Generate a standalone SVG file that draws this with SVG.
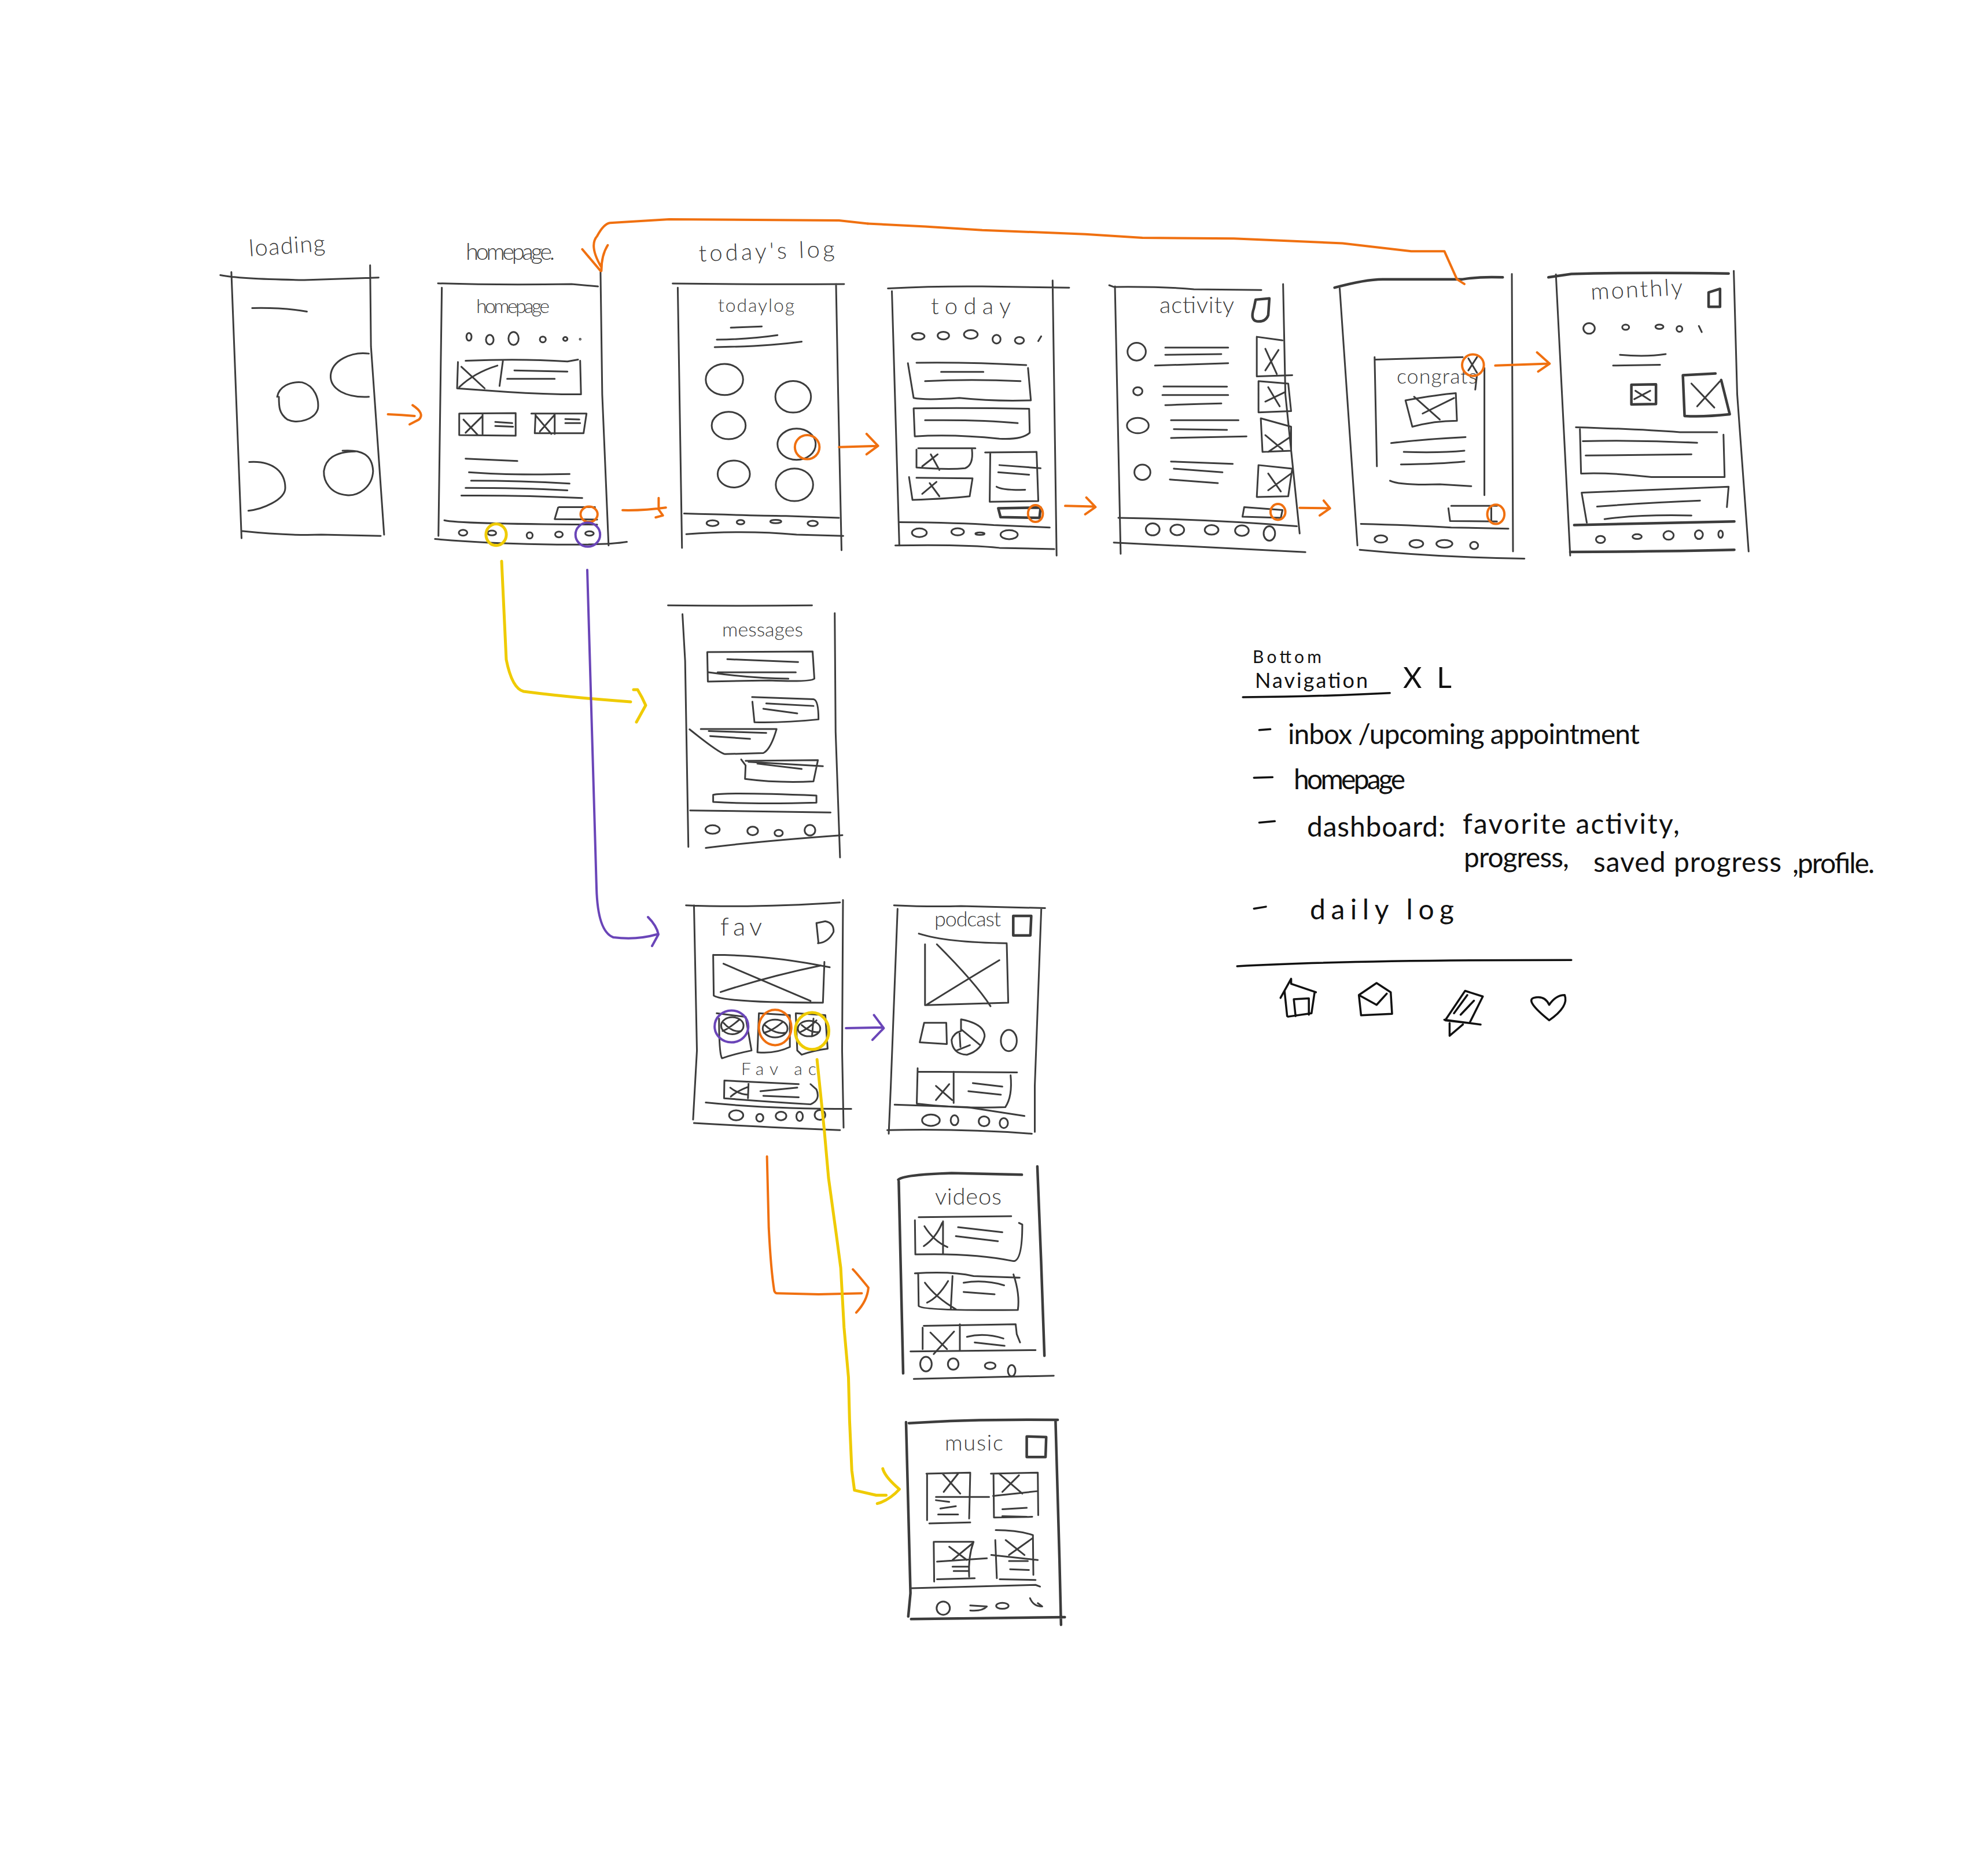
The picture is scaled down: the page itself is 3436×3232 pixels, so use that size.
<svg xmlns="http://www.w3.org/2000/svg" width="3436" height="3232" viewBox="0 0 3436 3232">
<style>
path,ellipse{fill:none;stroke:#3c3c3c;stroke-width:3;stroke-linecap:round;stroke-linejoin:round;vector-effect:non-scaling-stroke}
.th path,.th ellipse{stroke:#111;stroke-width:3.5}
.bold{stroke-width:4.5}
.thin{stroke-width:2}
.or path,.or ellipse{stroke:#f07010;stroke-width:4}
.ye path,.ye ellipse{stroke:#efcb00;stroke-width:5}
.pu path,.pu ellipse{stroke:#6a45b8;stroke-width:4}
text{font-family:"Lato","Liberation Sans",sans-serif;font-weight:300;fill:#3c3c3c;font-size:40px}
.bk text{fill:#111;font-size:48px;font-weight:400}
</style>
<rect width="3436" height="3232" fill="#ffffff"/>

<g id="loading">
<g transform="translate(350 350) scale(.7334 .4145)">
<path d="M42 303Q90 320 240 323Q330 318 415 313M68 290L92 1400M395 262L397 600L428 1385M92 1370Q200 1390 280 1385L420 1390M117 440Q190 437 246 455"/>
<path d="M392 810C340 815 300 780 302 720C305 660 350 620 392 630"/>
<path d="M176 810C180 770 205 745 235 750C265 765 275 820 272 860C265 905 225 925 200 905C180 880 180 850 180 810"/>
<path d="M110 1082C170 1075 195 1130 195 1190C195 1240 140 1280 108 1285"/>
<path d="M330 1035C375 1030 400 1050 402 1120C400 1190 365 1225 340 1220C300 1215 285 1160 286 1120C290 1070 310 1040 360 1038"/>
</g>
<text x="431" y="443" font-size="44" textLength="132" transform="rotate(-4 431 443)">loading</text>
</g>

<g id="homepage">
<g transform="translate(350 350) scale(.7334 .4145)">
<path d="M555 337Q700 345 870 340L932 350M564 355L556 1390M938 290L942 800L957 1430"/>
<ellipse cx="628" cy="560" rx="6" ry="16"/><ellipse cx="677" cy="572" rx="9" ry="20"/><ellipse cx="733" cy="567" rx="12" ry="27"/><ellipse cx="802" cy="571" rx="7" ry="12"/><ellipse cx="855" cy="569" rx="5" ry="8"/><ellipse cx="890" cy="570" rx="1" ry="2"/>
<path d="M620 660Q750 650 860 663L885 655M890 660L892 800Q800 800 720 790L600 775L602 665M610 685L665 775M695 680Q640 710 605 770M708 660L700 765M735 700L860 705M718 735L830 735"/>
<path d="M605 880L738 878L738 972L605 970ZM615 905L648 968M660 890L620 960M660 880L660 965M690 915L730 920M690 932L732 935"/>
<path d="M775 880L905 880L898 962L783 962L785 880M785 888L822 965M830 885L795 955M830 880L830 965M855 903L888 905M855 920L890 920"/>
<path d="M620 1068L742 1078M628 1125Q720 1138 865 1132M633 1160Q750 1160 865 1172M620 1190Q750 1190 860 1200M610 1222Q750 1220 895 1232"/>
<path d="M840 1270L925 1270M838 1272L830 1320L930 1322"/>
<path d="M570 1325Q600 1340 930 1343M548 1403Q650 1420 800 1425Q950 1430 1000 1415"/>
<ellipse cx="614" cy="1377" rx="10" ry="12"/><ellipse cx="682" cy="1378" rx="10" ry="10"/><ellipse cx="771" cy="1388" rx="7" ry="13"/><ellipse cx="840" cy="1384" rx="9" ry="12"/><ellipse cx="912" cy="1380" rx="10" ry="9"/>
</g>
<text x="805" y="449" textLength="154">homepage.</text>
<text x="823" y="541" style="font-size:34px" textLength="127">homepage</text>
</g>

<g id="todays-log">
<g transform="translate(350 350) scale(.7334 .4145)">
<path d="M1108 338Q1300 342 1512 340M1120 355L1130 1440M1493 340L1498 800L1506 1450M1245 522L1318 517M1212 572Q1290 570 1355 553M1207 603Q1330 600 1412 580"/>
<ellipse cx="1230" cy="738" rx="44" ry="65"/><ellipse cx="1392" cy="810" rx="42" ry="66"/><ellipse cx="1240" cy="930" rx="40" ry="57"/><ellipse cx="1400" cy="1008" rx="45" ry="65"/><ellipse cx="1252" cy="1132" rx="38" ry="56"/><ellipse cx="1395" cy="1177" rx="44" ry="68"/>
<path d="M1135 1297Q1300 1305 1375 1307L1500 1315M1140 1383Q1280 1365 1400 1385L1510 1390"/>
<ellipse cx="1202" cy="1337" rx="14" ry="12"/><ellipse cx="1268" cy="1333" rx="9" ry="9"/><ellipse cx="1351" cy="1330" rx="13" ry="7"/><ellipse cx="1438" cy="1338" rx="12" ry="11"/>
</g>
<text x="1208" y="452" textLength="235" transform="rotate(-2 1208 452)">today's log</text>
<text x="1241" y="539" style="font-size:32px" textLength="132">todaylog</text>
</g>

<g id="today">
<g transform="translate(1500 350) scale(.9885 .4145)">
<path d="M35 358Q120 348 200 350L352 355M42 370L55 1430M323 325L330 1472"/>
<ellipse cx="88" cy="558" rx="11" ry="14"/><ellipse cx="132" cy="555" rx="10" ry="16"/><ellipse cx="180" cy="550" rx="12" ry="18"/><ellipse cx="225" cy="570" rx="7" ry="18"/><ellipse cx="265" cy="575" rx="8" ry="14"/>
<path d="M303 558L298 578M85 668Q180 665 277 678M70 670L80 815Q100 825 160 815Q220 830 285 825L280 690M128 706L202 706M100 745Q180 735 267 745"/>
<path d="M80 858Q180 855 282 860L283 960Q270 990 230 985Q150 965 82 975ZM100 908Q200 905 262 920"/>
<path d="M88 1025L188 1025M85 1030L85 1105Q140 1115 170 1108Q185 1095 182 1030M95 1100L122 1050M110 1050L125 1115"/>
<path d="M72 1145L78 1240Q140 1235 178 1225L183 1150L85 1148M95 1215L120 1165M108 1170L125 1225"/>
<path d="M205 1042L295 1040L298 1245L213 1248L214 1045M230 1095L302 1108M228 1125L282 1135M225 1185Q235 1200 275 1198"/>
<path class="bold" d="M228 1275L302 1272L300 1315L232 1312Z"/>
<path d="M55 1333Q160 1335 220 1345L318 1355M48 1430Q170 1425 230 1440L326 1445"/>
<ellipse cx="90" cy="1377" rx="13" ry="18"/><ellipse cx="157" cy="1373" rx="11" ry="15"/><ellipse cx="196" cy="1381" rx="8" ry="5"/><ellipse cx="247" cy="1385" rx="15" ry="19"/>
</g>
<text x="1609" y="543" textLength="138">today</text>
</g>

<g id="activity">
<g transform="translate(1500 350) scale(.9885 .4145)">
<path d="M422 345L430 352Q520 350 570 362L688 365M432 350L442 1465M726 340L730 800L755 1380"/>
<path class="bold" d="M678 405L702 400L700 470Q695 500 680 495Q668 490 675 440Z"/>
<ellipse cx="470" cy="622" rx="16" ry="37"/><ellipse cx="472" cy="787" rx="8" ry="17"/><ellipse cx="472" cy="930" rx="19" ry="32"/><ellipse cx="480" cy="1125" rx="14" ry="32"/>
<path d="M520 605L630 605M520 635L618 632M502 680Q570 675 630 670M517 767L628 768M515 803L630 803M520 845Q570 840 618 838M530 908L648 908M535 945L628 948M530 982L662 975M530 1080L638 1090M535 1110L620 1125M528 1155L612 1170"/>
<path d="M680 560L680 725L742 720M680 560L725 575M695 610L715 715M718 615L695 700M683 745L735 755L740 870L683 875ZM700 770L720 850M730 790L695 830M687 900L740 935L740 1035L690 1040ZM695 970L725 1030M740 975L700 1040M683 1095L742 1110L735 1225L680 1228ZM700 1130L722 1205M740 1130L700 1200"/>
<path d="M658 1270L725 1282L722 1315L655 1310Z"/>
<path d="M438 1315Q600 1320 750 1350M430 1418Q600 1440 765 1458"/>
<ellipse cx="498" cy="1363" rx="12" ry="25"/><ellipse cx="541" cy="1365" rx="12" ry="22"/><ellipse cx="601" cy="1365" rx="12" ry="20"/><ellipse cx="654" cy="1368" rx="12" ry="22"/><ellipse cx="702" cy="1380" rx="10" ry="30"/>
</g>
<text x="2004" y="541" textLength="129">activity</text>
</g>

<g id="congrats">
<g transform="translate(1500 350) scale(.9885 .4145)">
<path class="bold" d="M816 355Q870 320 900 320Q1000 320 1040 320Q1070 308 1110 312"/>
<path d="M825 358L856 1430M1126 298L1128 1455"/>
<path d="M888 655Q960 650 1040 645M886 645L890 1100M1065 720L1062 780M1078 690L1078 1220"/>
<path d="M940 825Q1000 800 1028 795L1030 910Q990 910 952 935ZM955 810L1000 905M1025 815L970 880"/>
<path d="M915 1003Q980 985 1045 978M937 1040Q1000 1045 1043 1035M932 1092Q1000 1090 1043 1080M913 1160Q930 1180 1000 1175L1055 1183M1050 650L1065 710M1065 645L1050 700"/>
<path d="M1020 1265L1100 1265M1015 1275L1018 1328L1100 1330M1090 1270L1090 1330"/>
<path d="M862 1340Q950 1345 1020 1355L1120 1360M860 1448Q1000 1480 1148 1485"/>
<ellipse cx="897" cy="1403" rx="11" ry="15"/><ellipse cx="959" cy="1423" rx="12" ry="16"/><ellipse cx="1008" cy="1423" rx="14" ry="16"/><ellipse cx="1060" cy="1430" rx="7" ry="15"/>
</g>
<text x="2414" y="663" style="font-size:36px" textLength="139">congrats</text>
</g>

<g id="monthly">
<g transform="translate(1500 350) scale(.9885 .4145)">
<path class="bold" d="M1190 312L1230 298Q1350 290 1505 296"/>
<path d="M1203 300L1228 1472M1514 285L1520 800L1540 1455"/>
<path class="bold" d="M1470 375L1490 360L1490 435L1470 435Z"/>
<ellipse cx="1261" cy="525" rx="10" ry="22"/><ellipse cx="1325" cy="520" rx="6" ry="11"/><ellipse cx="1384" cy="518" rx="7" ry="9"/><ellipse cx="1419" cy="527" rx="5" ry="12"/>
<path d="M1453 515L1458 540M1315 635Q1360 645 1395 632M1303 680L1385 677"/>
<path class="bold" d="M1335 760L1378 758L1378 840L1335 842Z"/>
<path d="M1342 785L1368 825M1368 785L1340 820"/>
<path class="bold" d="M1425 720L1482 713M1425 720L1428 890Q1460 895 1507 883L1492 740"/>
<path d="M1440 755L1480 855M1490 745L1450 850"/>
<path d="M1238 937Q1350 945 1420 958L1485 958M1245 945L1247 1130Q1300 1125 1370 1145L1498 1145L1496 968M1250 995Q1350 990 1450 1002M1255 1055L1440 1050"/>
<path d="M1248 1210Q1400 1195 1505 1185L1502 1270M1248 1210L1257 1335M1275 1268Q1370 1250 1455 1243M1288 1320Q1350 1300 1440 1305"/>
<path class="bold" d="M1235 1345Q1400 1335 1515 1330M1228 1457Q1400 1455 1515 1448"/>
<ellipse cx="1281" cy="1405" rx="8" ry="15"/><ellipse cx="1345" cy="1393" rx="8" ry="10"/><ellipse cx="1400" cy="1388" rx="9" ry="18"/><ellipse cx="1453" cy="1385" rx="7" ry="18"/><ellipse cx="1491" cy="1383" rx="4" ry="15"/>
</g>
<text x="2750" y="518" textLength="159" transform="rotate(-3 2750 518)">monthly</text>
</g>

<g id="messages">
<g transform="translate(1100 1020) scale(.51 .612)">
<path d="M107 43Q350 45 595 43M156 68L165 200L176 725M672 65L675 400L690 755"/>
<path d="M240 175L597 173L603 250Q590 260 450 255L242 258ZM308 195L548 203M275 232L540 232M245 232Q400 250 515 250"/>
<path d="M392 302L600 308Q617 310 617 365Q500 375 400 373L393 315M440 320L600 327M430 335L545 348"/>
<path d="M218 392L475 392Q455 450 430 460L300 463Q280 460 180 393M245 398L440 403M250 412L385 420"/>
<path d="M355 478L370 495L368 533Q480 545 600 540L615 480L370 482M380 485L632 497M410 490L560 505"/>
<path d="M260 578Q300 570 610 580L610 600Q400 605 260 598Z"/>
<path d="M182 622Q400 625 658 628M235 728Q400 710 698 692"/>
<ellipse cx="258" cy="676" rx="24" ry="12"/><ellipse cx="394" cy="680" rx="18" ry="12"/><ellipse cx="482" cy="686" rx="14" ry="9"/><ellipse cx="588" cy="678" rx="18" ry="15"/>
</g>
<text x="1248" y="1100" style="font-size:34px" textLength="140">messages</text>
</g>

<g id="fav">
<g transform="translate(1100 1020) scale(.51 .612)">
<path d="M168 890Q400 898 690 882M195 890L205 1300L192 1495M700 875L697 1300L702 1518M195 1505Q400 1515 690 1525"/>
<path d="M612 940L640 935Q670 940 668 965Q650 995 615 997M610 940L617 997"/>
<path d="M260 1030Q450 1030 655 1065M260 1030L262 1145Q300 1165 632 1165L637 1050M295 1055Q450 1110 590 1160M285 1135Q450 1090 625 1060"/>
<path d="M272 1195L370 1205L390 1300Q330 1310 290 1322Q280 1310 280 1210"/>
<path d="M415 1195L520 1200L520 1290Q470 1310 410 1305Z"/>
<path d="M540 1195L640 1200L648 1295Q600 1300 560 1312L545 1300Z"/>
<ellipse cx="325" cy="1230" rx="38" ry="24"/><ellipse cx="470" cy="1238" rx="42" ry="25"/><ellipse cx="585" cy="1238" rx="38" ry="22"/>
<path d="M295 1222Q325 1250 355 1245M350 1212Q310 1240 292 1245M435 1228Q470 1255 505 1250M495 1220Q460 1245 432 1250M560 1228Q590 1250 615 1248M610 1215Q580 1240 555 1248M600 1210L595 1260"/>
<path d="M298 1385L550 1395M298 1385L297 1435Q450 1445 590 1452Q625 1440 610 1410L590 1395M380 1390L378 1435M318 1405Q350 1425 378 1425M378 1403Q340 1415 320 1430M420 1415L545 1405M430 1428L550 1432"/>
<path d="M235 1447Q450 1465 728 1465"/>
<ellipse cx="338" cy="1483" rx="24" ry="14"/><ellipse cx="418" cy="1490" rx="12" ry="11"/><ellipse cx="490" cy="1485" rx="18" ry="12"/><ellipse cx="553" cy="1486" rx="11" ry="13"/><ellipse cx="622" cy="1482" rx="18" ry="14"/>
</g>
<text x="1245" y="1617" style="font-size:44px" textLength="72">fav</text>
<text x="1281" y="1858" style="font-size:30px" textLength="130">Fav ac</text>
</g>

<g id="podcast">
<g transform="translate(1100 1020) scale(.51 .612)">
<path d="M873 890Q1000 895 1100 892L1385 898M885 900L862 1400L855 1535M1372 900L1350 1400L1350 1530M850 1525Q1100 1520 1340 1535"/>
<path class="bold" d="M1277 920L1338 920L1335 975L1277 975Z"/>
<path d="M957 970Q1050 995 1255 997M978 1000L978 1172L1260 1165L1255 1000M1018 1000Q1150 1110 1200 1175M985 1170Q1100 1110 1230 1045"/>
<path d="M975 1222L1050 1222L1052 1282L960 1277ZM1100 1212Q1180 1225 1180 1260Q1170 1300 1120 1312Q1070 1310 1068 1270Q1075 1250 1100 1245ZM1100 1240L1165 1285M1085 1300L1130 1285M1095 1250L1098 1290"/>
<ellipse cx="1262" cy="1272" rx="27" ry="30"/>
<path d="M955 1360L1290 1362M953 1350L950 1450Q1100 1465 1250 1460Q1275 1430 1268 1370M1075 1360L1075 1448M1015 1400L1070 1440M1060 1395L1015 1440M1140 1392L1240 1402M1125 1415L1235 1425"/>
<path d="M875 1453L1120 1460L1315 1485"/>
<ellipse cx="998" cy="1497" rx="30" ry="16"/><ellipse cx="1078" cy="1497" rx="13" ry="14"/><ellipse cx="1178" cy="1500" rx="18" ry="14"/><ellipse cx="1245" cy="1505" rx="14" ry="14"/>
</g>
<text x="1615" y="1601" style="font-size:36px" textLength="115">podcast</text>
</g>

<g id="videos">
<g transform="translate(1300 1950) scale(.3827 .574)">
<path class="bold" d="M660 155Q680 140 900 135L1218 140M662 160L682 738M1288 115L1305 400L1320 685"/>
<path d="M752 268L1170 265"/>
<path d="M735 277L737 380Q1000 375 1180 400Q1220 400 1220 290L1205 285M862 280L862 380M778 295Q820 340 882 358M858 285Q830 330 775 355M930 298L1130 313M920 325L1110 340"/>
<path d="M735 437Q900 430 1000 445L1208 450M750 440L752 535Q770 550 1200 547Q1210 500 1180 440M905 445L897 545M780 465Q830 510 920 545M885 460Q840 510 790 525M955 465Q1050 455 1138 473M955 493L1095 500"/>
<path d="M775 595L1190 590L1195 620L1210 645M770 600L770 665M938 590L938 668M805 615L880 665M912 612L820 680M970 628Q1050 615 1135 633M1005 645L1140 655"/>
<path d="M715 672L1280 668M730 755L1362 745"/>
<ellipse cx="785" cy="710" rx="26" ry="22"/><ellipse cx="908" cy="710" rx="24" ry="17"/><ellipse cx="1075" cy="715" rx="24" ry="10"/><ellipse cx="1172" cy="730" rx="17" ry="17"/>
</g>
<text x="1616" y="2082" textLength="115">videos</text>
</g>

<g id="music">
<g transform="translate(1300 1950) scale(.3827 .574)">
<path class="bold" d="M708 888Q1000 875 1380 878M695 885L715 1400L705 1470M1370 878L1388 1300L1395 1495M718 1478L1412 1472"/>
<path class="bold" d="M1240 928L1328 930L1325 990L1240 990Z"/>
<path d="M787 1040L985 1037L980 1175M790 1040L790 1180M800 1190L985 1187M860 1040L940 1100M930 1040L865 1095M830 1110L1070 1110M830 1120L890 1125M850 1145L920 1138M840 1163L930 1163"/>
<path d="M1078 1040L1290 1037L1292 1165M1090 1040L1092 1172L1265 1170M1115 1040L1220 1100M1205 1045L1130 1095M1088 1107L1285 1093M1130 1147L1240 1143M1130 1168L1240 1170"/>
<path d="M825 1245L1000 1245Q975 1290 980 1350M820 1245L822 1365M835 1358L1005 1355M890 1260L970 1300M995 1250L905 1300M835 1305L1060 1295M905 1320L975 1320M910 1333L975 1333"/>
<path d="M1100 1210Q1200 1210 1268 1225L1270 1345M1098 1240L1105 1355M1118 1358L1280 1360M1145 1240L1230 1285M1265 1235L1160 1285M1080 1285L1290 1300M1160 1303L1245 1303M1165 1328L1250 1330"/>
<path d="M720 1385L1280 1375L1300 1380"/>
<ellipse cx="863" cy="1445" rx="30" ry="20"/><ellipse cx="1130" cy="1438" rx="28" ry="9"/>
<path d="M985 1437L1060 1440Q1040 1455 985 1452M1255 1415Q1270 1440 1310 1440L1290 1430"/>
</g>
<text x="1633" y="2507" style="font-size:38px" textLength="101">music</text>
</g>

<g id="bottom-navigation-notes" class="th bk">
<text x="2165" y="1146" style="font-size:30px" textLength="119">Bottom</text>
<text x="2169" y="1189" style="font-size:36px" textLength="195">Navigation</text>
<text x="2425" y="1189" style="font-size:50px" textLength="84">XL</text>
<text x="2226" y="1286" textLength="608">inbox /upcoming appointment</text>
<text x="2236" y="1364" textLength="193">homepage</text>
<text x="2259" y="1446" textLength="239">dashboard:</text>
<text x="2528" y="1441" textLength="375">favorite activity,</text>
<text x="2530" y="1499" textLength="182">progress,</text>
<text x="2754" y="1507" textLength="325">saved progress</text>
<text x="3098" y="1509" textLength="142">,profile.</text>
<text x="2264" y="1589" textLength="249">daily log</text>
<g transform="translate(2100 1080) scale(.765 .4847)">
<path d="M63 258Q250 255 395 243"/>
<path d="M100 375L125 372M88 545L130 543M100 705L135 700M88 1012L115 1005"/>
<path class="thin" d="M50 1217Q300 1195 805 1195"/>
<path d="M148 1330L172 1262L172 1280L228 1310M157 1305L163 1395M225 1310L218 1385L165 1397M178 1335L212 1332L212 1390M178 1335L182 1395"/>
<path d="M325 1320L365 1277L397 1310L400 1387L330 1392ZM325 1320L365 1355L388 1315"/>
<path d="M565 1305L605 1325L575 1420L520 1410ZM518 1408L600 1425M530 1465L560 1425M530 1465L530 1420M540 1385L570 1320M555 1390L585 1340"/>
<path d="M755 1410Q700 1340 720 1330Q745 1320 755 1355Q770 1320 790 1320Q800 1360 755 1410Z"/>
</g>
</g>

<g id="connectors">
<g class="or" transform="translate(350 350) scale(.7334 .4145)">
<path d="M437 883Q470 885 500 890M495 845Q525 880 510 905L488 925"/>
<path d="M990 1283Q1040 1285 1092 1272M1075 1232L1075 1280L1085 1305L1068 1313"/>
<path d="M1500 1020L1590 1015M1565 965L1592 1015L1565 1050"/>
<path d="M940 270Q910 180 930 140Q945 90 960 85Q1050 75 1100 70L1500 75L1568 88M895 195L938 285M955 178Q940 220 940 285"/>
<ellipse cx="911" cy="1300" rx="20" ry="32"/><ellipse cx="1425" cy="1020" rx="29" ry="50"/>
</g>
<g class="or" transform="translate(1500 350) scale(.9885 .4145)">
<path d="M0 88L100 100L200 115L380 132L480 147L640 150L830 170L950 203L1008 203L1030 320L1043 340"/>
<path d="M345 1265L395 1268M382 1230L398 1270L380 1300M755 1273L808 1275M797 1243L808 1275L790 1305M1097 680Q1150 675 1190 672M1170 625L1192 672L1172 705"/>
<ellipse cx="293" cy="1297" rx="13" ry="35"/><ellipse cx="717" cy="1290" rx="13" ry="33"/><ellipse cx="1058" cy="678" rx="19" ry="45"/><ellipse cx="1098" cy="1300" rx="15" ry="40"/>
</g>
<g class="or" transform="translate(1100 1020) scale(.51 .612)">
<ellipse cx="470" cy="1235" rx="55" ry="50"/>
</g>
<g class="or" transform="translate(1300 1950) scale(.3827 .574)">
<path d="M67 85L75 300Q85 430 100 490Q105 498 115 497L300 500L495 497M455 425Q470 435 525 480Q520 520 470 555"/>
</g>
<g class="ye" transform="translate(350 350) scale(.7334 .4145)">
<ellipse cx="692" cy="1385" rx="24" ry="45"/>
</g>
<g class="ye">
<path d="M867 970L875 1140Q885 1190 905 1195Q980 1205 1090 1213M1095 1192L1102 1192Q1110 1205 1116 1219L1100 1248"/>
</g>
<g class="ye" transform="translate(1100 1020) scale(.51 .612)">
<ellipse cx="595" cy="1245" rx="57" ry="52"/>
</g>
<g class="ye" transform="translate(1300 1950) scale(.3827 .574)">
<path d="M293 -207L325 0L345 150L380 320L400 420L415 600L435 750L440 880L450 1030L462 1090L560 1105L605 1105M590 1025Q600 1050 665 1087Q620 1120 565 1130"/>
</g>
<g class="pu" transform="translate(350 350) scale(.7334 .4145)">
<ellipse cx="908" cy="1385" rx="29" ry="50"/>
</g>
<g class="pu">
<path d="M1015 985L1031 1535Q1033 1610 1060 1620Q1100 1625 1135 1615M1120 1585Q1135 1600 1138 1615L1127 1635"/>
</g>
<g class="pu" transform="translate(1100 1020) scale(.51 .612)">
<ellipse cx="322" cy="1232" rx="57" ry="45"/>
<path d="M710 1237L835 1235M805 1200L838 1237L800 1270"/>
</g>
</g>
</svg>
